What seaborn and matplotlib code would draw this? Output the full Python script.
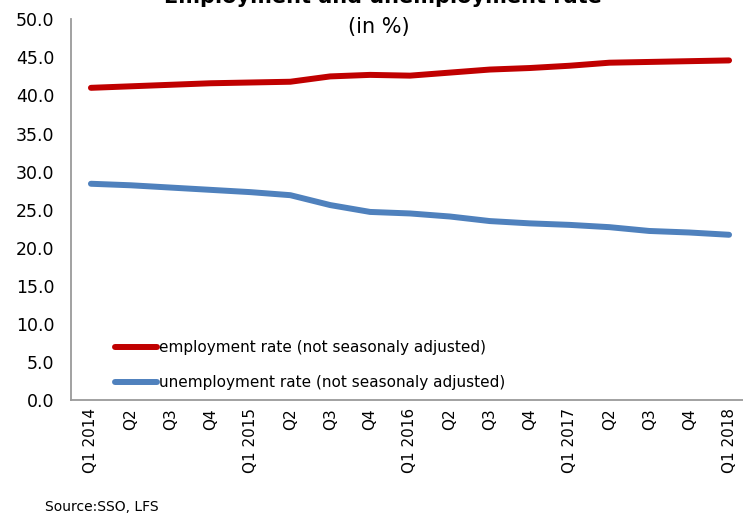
import matplotlib
matplotlib.use("Agg")
import matplotlib.pyplot as plt
import numpy as np
import pandas as pd
import seaborn as sns

quarters = ["Q1 2014", "Q2", "Q3", "Q4", "Q1 2015", "Q2", "Q3", "Q4",
            "Q1 2016", "Q2", "Q3", "Q4", "Q1 2017", "Q2", "Q3", "Q4", "Q1 2018"]
employment = [41.0, 41.2, 41.4, 41.6, 41.7, 41.8, 42.5, 42.7, 42.6,
              43.0, 43.4, 43.6, 43.9, 44.3, 44.4, 44.5, 44.6]
unemployment = [28.4, 28.2, 27.9, 27.6, 27.3, 26.9, 25.6, 24.7, 24.5,
                24.1, 23.5, 23.2, 23.0, 22.7, 22.2, 22.0, 21.7]
series_names = ["employment rate (not seasonaly adjusted)",
                "unemployment rate (not seasonaly adjusted)"]
series_colors = ["#C00000", "#4F81BD"]

sns.set_style("white")
plt.rcParams["font.family"] = ["DejaVu Sans"]
plt.rcParams["text.color"] = "black"
plt.rcParams["xtick.color"] = "black"
plt.rcParams["ytick.color"] = "black"

idx = np.arange(len(quarters))
df = pd.DataFrame({
    "pos": np.concatenate([idx, idx]),
    "value": employment + unemployment,
    "series": [series_names[0]] * len(idx) + [series_names[1]] * len(idx),
})

fig = plt.figure(figsize=(7.43, 5.15), dpi=100)
ax = fig.add_axes([71 / 743, 115 / 515, 678 / 743, 380.7 / 515])

sns.lineplot(data=df, x="pos", y="value", hue="series",
             palette=dict(zip(series_names, series_colors)),
             linewidth=4.3, ax=ax, legend=True)
for ln in ax.get_lines():
    ln.set_solid_capstyle("round")
    ln.set_solid_joinstyle("round")

ax.set_xlim(-0.5, len(quarters) - 0.5)
ax.set_ylim(0, 50)
ax.set_yticks(np.arange(0, 50.1, 5))
ax.set_yticklabels([f"{v:.1f}" for v in np.arange(0, 50.1, 5)], fontsize=12.5)
ax.set_xticks(idx)
ax.set_xticklabels(quarters, rotation=90, fontsize=11, va="top")
ax.set_xticks(np.arange(-0.5, len(quarters), 1), minor=True)
ax.tick_params(axis="x", which="major", length=0, pad=6)
ax.tick_params(axis="x", which="minor", length=6, width=1, color="#9A9A9A",
               direction="out")
ax.tick_params(axis="y", length=5, width=1, color="#9A9A9A", direction="out",
               pad=7)
ax.set_xlabel("")
ax.set_ylabel("")

for side in ["top", "right"]:
    ax.spines[side].set_visible(False)
for side in ["left", "bottom"]:
    ax.spines[side].set_color("#9A9A9A")
    ax.spines[side].set_linewidth(1.3)

leg = ax.legend(loc="lower left", bbox_to_anchor=(0.045, -0.01), frameon=False,
                fontsize=11, handlelength=2.75, handletextpad=0.1,
                labelspacing=1.3)
for h in leg.get_lines():
    h.set_linewidth(4.3)
    h.set_solid_capstyle("round")
for t in leg.get_texts():
    t.set_color("black")

fig.text(0.515, 1.005, "Employment and unemployment rate", ha="center",
         va="center", fontsize=15, fontweight="bold")
fig.text(0.51, 0.947, "(in %)", ha="center", va="center", fontsize=15)
fig.text(45 / 743, 8 / 515, "Source:SSO, LFS", ha="left", va="center",
         fontsize=10)

fig.savefig("out.png", dpi=100)
